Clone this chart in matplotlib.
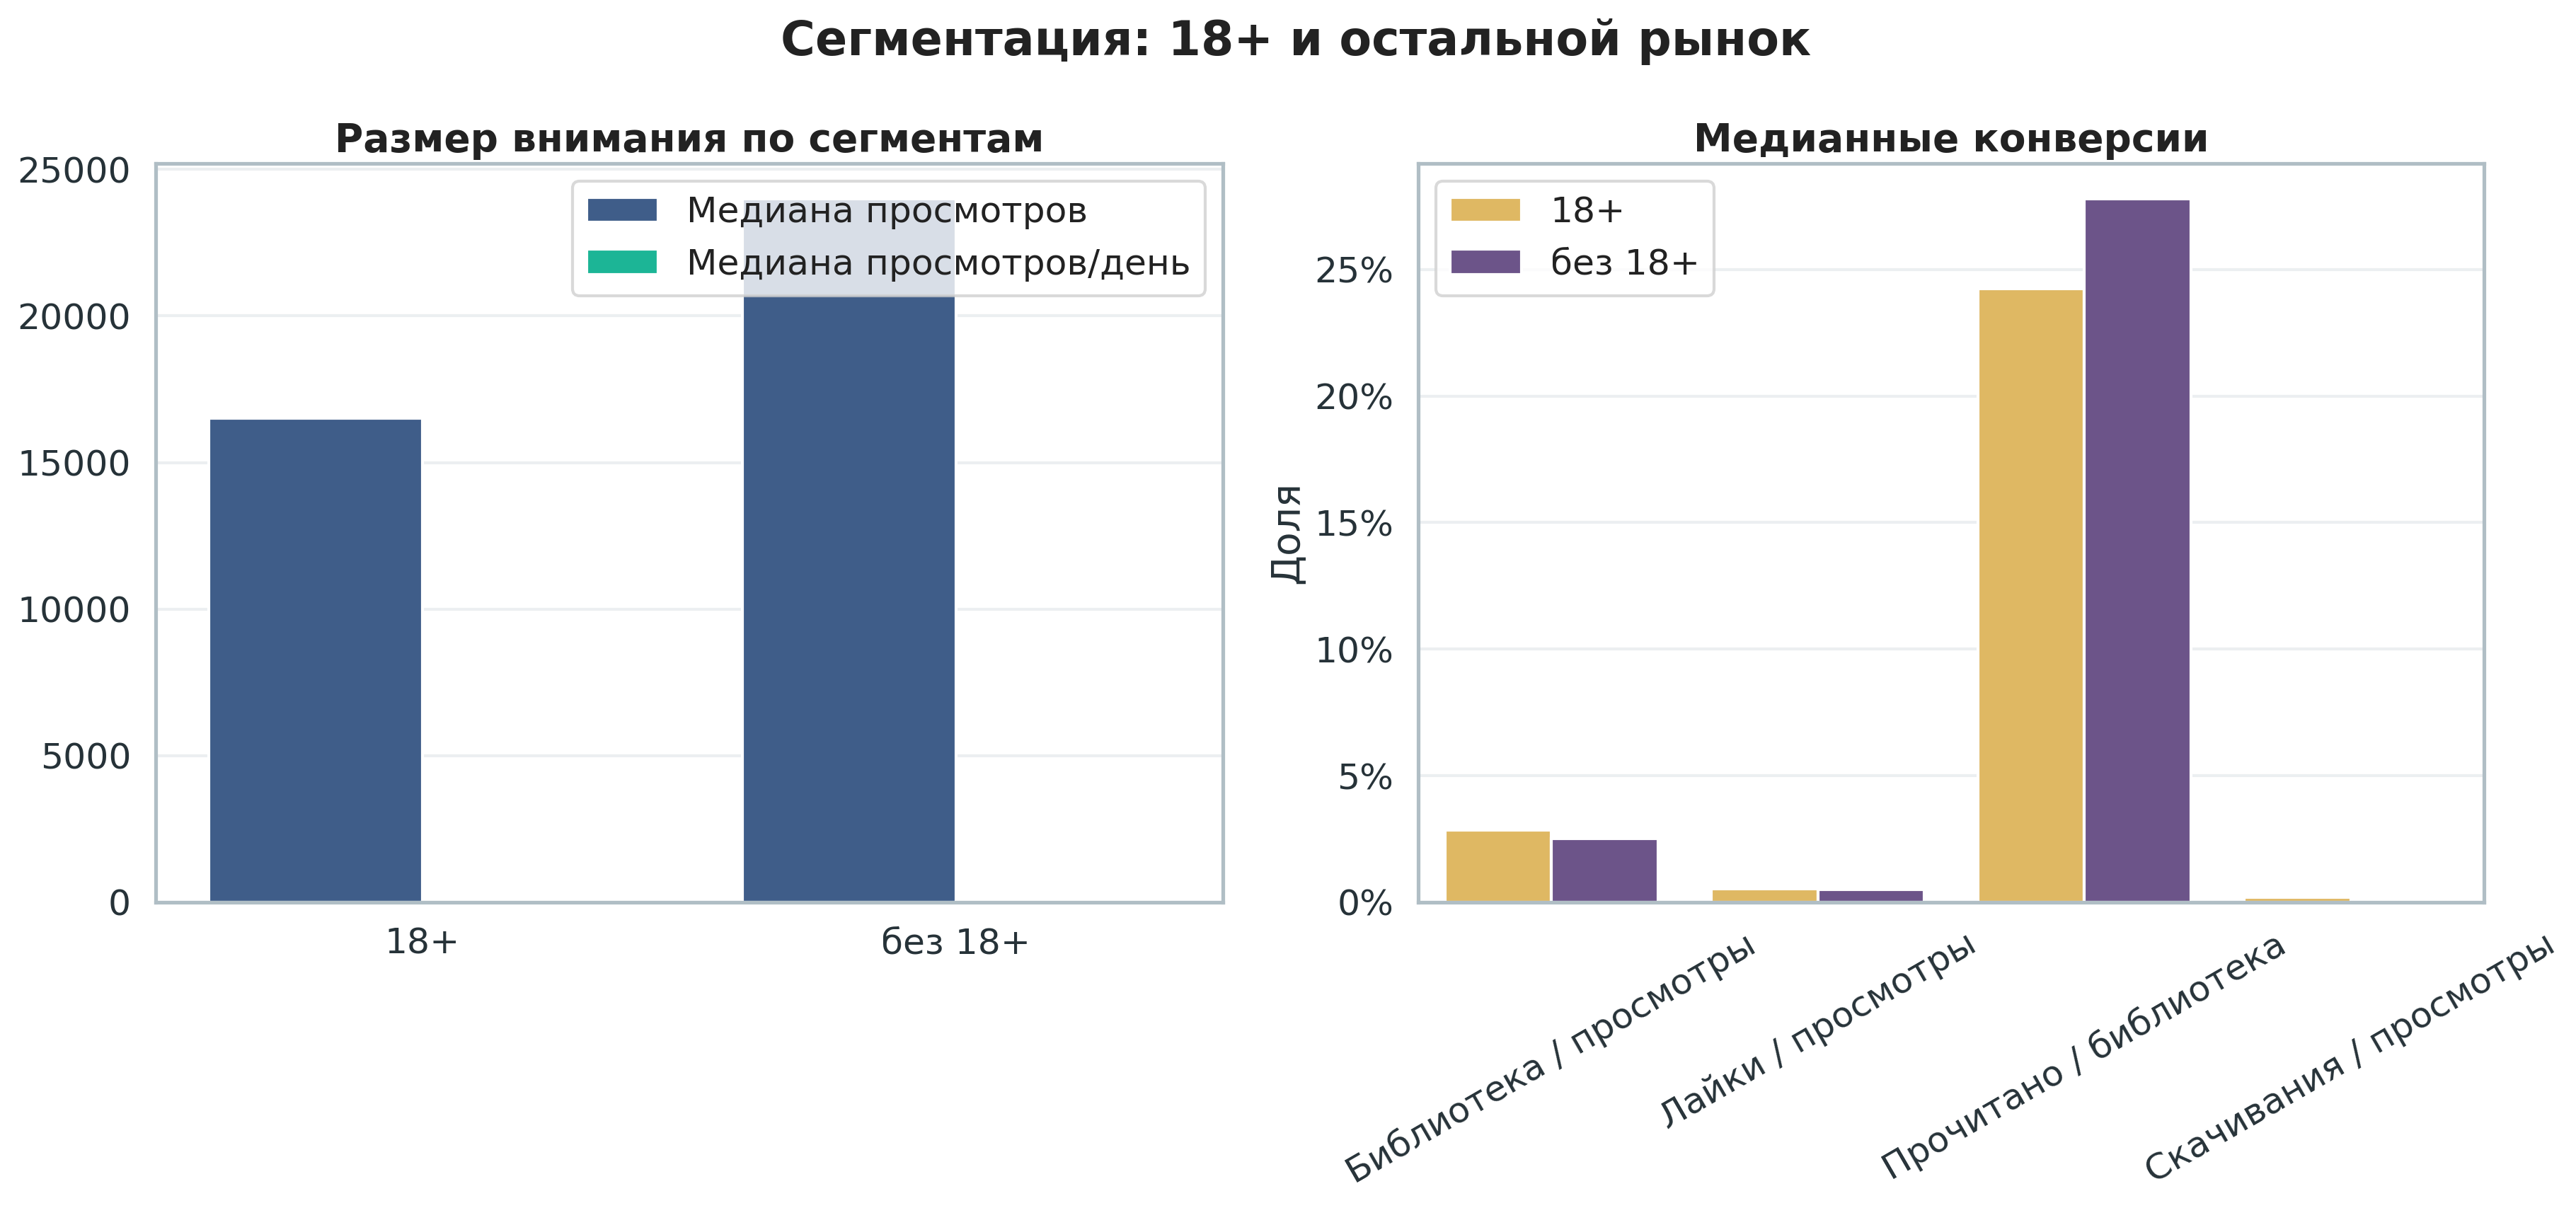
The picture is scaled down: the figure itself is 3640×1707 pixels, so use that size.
import matplotlib
matplotlib.use("Agg")
import matplotlib.pyplot as plt
import seaborn as sns
from matplotlib.ticker import PercentFormatter
import numpy as np

# данные
segments = ["18+", "без 18+"]
views_median = [16500, 24000]
views_per_day_median = [14, 20]

conv_labels = ["Библиотека / просмотры", "Лайки / просмотры",
               "Прочитано / библиотека", "Скачивания / просмотры"]
conv_18 = [0.0285, 0.0052, 0.2425, 0.0019]
conv_other = [0.0252, 0.0049, 0.2780, 0.0003]

sns.set_theme(style="whitegrid", context="talk", font_scale=1.1)
plt.rcParams["font.family"] = ["DejaVu Sans"]
plt.rcParams["axes.edgecolor"] = "#b0bec5"
plt.rcParams["grid.color"] = "#eceff1"
plt.rcParams["text.color"] = "#222222"
plt.rcParams["xtick.color"] = "#263238"
plt.rcParams["ytick.color"] = "#263238"
plt.rcParams["axes.labelcolor"] = "#263238"

fig = plt.figure(figsize=(18.205, 8.535), dpi=200)
ax1 = fig.add_axes([0.0604, 0.2531, 0.4142, 0.6116])
ax2 = fig.add_axes([0.5504, 0.2531, 0.4136, 0.6116])

w = 0.4
x = np.arange(len(segments))
ax1.bar(x - w / 2, views_median, w, color="#3f5d89", edgecolor="white",
        linewidth=1.5, label="Медиана просмотров")
ax1.bar(x + w / 2, views_per_day_median, w, color="#1cb596", edgecolor="white",
        linewidth=1.5, label="Медиана просмотров/день")
ax1.set_xticks(x)
ax1.set_xticklabels(segments)
ax1.set_xlim(-0.5, len(segments) - 0.5)
ax1.grid(axis="x", visible=False)
ax1.set_title("Размер внимания по сегментам", fontweight="bold")
ax1.legend(loc="upper right", edgecolor="#d0d0d0")

x2 = np.arange(len(conv_labels))
ax2.bar(x2 - w / 2, conv_18, w, color="#dfb863", edgecolor="white",
        linewidth=1.5, label="18+")
ax2.bar(x2 + w / 2, conv_other, w, color="#6c5489", edgecolor="white",
        linewidth=1.5, label="без 18+")
ax2.set_xticks(x2)
ax2.set_xticklabels(conv_labels, rotation=30)
ax2.set_xlim(-0.5, len(conv_labels) - 0.5)
ax2.yaxis.set_major_formatter(PercentFormatter(1.0, decimals=0))
ax2.grid(axis="x", visible=False)
ax2.set_ylabel("Доля")
ax2.set_title("Медианные конверсии", fontweight="bold")
ax2.legend(loc="upper left", edgecolor="#d0d0d0")

fig.suptitle("Сегментация: 18+ и остальной рынок", fontsize=24,
             fontweight="bold", x=0.503, y=0.985)

fig.savefig("out.png", dpi=200)
